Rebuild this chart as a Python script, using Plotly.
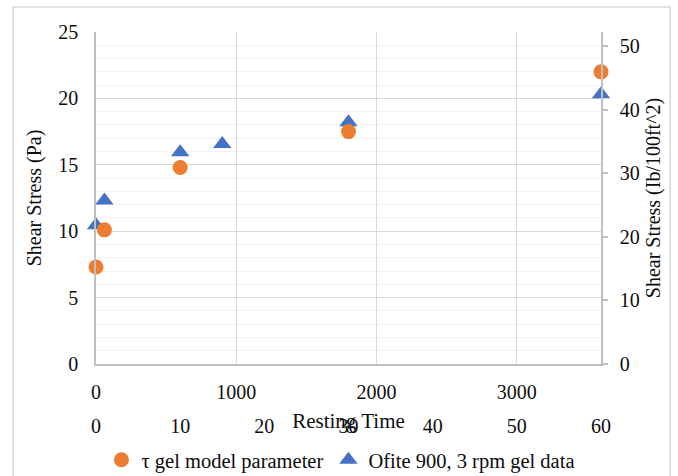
import plotly.graph_objects as go

# Data
tau_time_s = [0, 60, 600, 1800, 3600]
tau_stress_pa = [7.3, 10.1, 14.8, 17.5, 22.0]
ofite_time_min = [0, 1, 10, 15, 30, 60]
ofite_stress_lb = [21.8, 25.7, 33.3, 34.6, 38.0, 42.4]

tau_name = "τ gel model parameter"
ofite_name = "Ofite 900, 3 rpm gel data"

FONT = "Liberation Serif, Times New Roman, serif"
TXT = "#0d0d0d"
AX = "#bfbfbf"
GRID = "#d9d9d9"
MINOR = "#f2f2f2"

fig = go.Figure()
fig.add_trace(go.Scatter(
    x=tau_time_s, y=tau_stress_pa, mode="markers", name=tau_name,
    marker=dict(symbol="circle", size=15, color="#ED7D31"), cliponaxis=False,
    xaxis="x", yaxis="y"))
fig.add_trace(go.Scatter(
    x=ofite_time_min, y=ofite_stress_lb, mode="markers", name=ofite_name,
    marker=dict(symbol="triangle-up", size=16, color="#4472C4"), cliponaxis=False,
    xaxis="x2", yaxis="y2"))

fig.update_layout(
    width=678, height=476,
    margin=dict(l=96, r=77, t=32, b=112, autoexpand=False),
    paper_bgcolor="white", plot_bgcolor="white",
    font=dict(family=FONT, size=20, color=TXT),
    showlegend=True,
    legend=dict(orientation="h", x=0.485, xanchor="center", y=-0.289, yanchor="middle",
                font=dict(size=20.5), itemwidth=30, bgcolor="rgba(0,0,0,0)"),
    # seconds axis (overlay, drawn on top)
    xaxis=dict(range=[0, 3600], dtick=1000, tick0=0, overlaying="x2", anchor="y",
               showgrid=True, gridcolor=GRID,
               showline=True, linecolor=AX, linewidth=1.5, ticks="", zeroline=False,
               ticklabelstandoff=9, automargin=False,
               title=dict(text="Resting Time", font=dict(size=21), standoff=12)),
    # minutes axis (base)
    xaxis2=dict(range=[0, 60], dtick=10, tick0=0, anchor="y2", side="bottom",
                showgrid=False, showline=False, ticks="", zeroline=False,
                ticklabelstandoff=48, automargin=False),
    xaxis3=dict(range=[0, 60], dtick=10, tick0=0, overlaying="x2", anchor="y2", side="top",
                showgrid=False, showline=True, linecolor=AX, linewidth=1.5,
                ticks="outside", ticklen=5, tickcolor=AX, tickwidth=1.5,
                showticklabels=False, zeroline=False, automargin=False),
    yaxis=dict(range=[0, 25], dtick=5, tick0=0, overlaying="y2", anchor="x", side="left",
               showgrid=True, gridcolor=GRID,
               minor=dict(dtick=1, showgrid=True, gridcolor=MINOR, ticks=""),
               showline=True, linecolor=AX, linewidth=1.5, ticks="", zeroline=False,
               ticklabelstandoff=12, automargin=False,
               title=dict(text="Shear Stress (Pa)", font=dict(size=20), standoff=11)),
    yaxis2=dict(range=[0, 52.2], dtick=10, tick0=0, side="right", anchor="x2",
                showgrid=False, showline=True, linecolor=AX, linewidth=1.5,
                ticks="outside", ticklen=5, tickcolor=AX, tickwidth=1.5, zeroline=False,
                ticklabelstandoff=8, automargin=False,
                title=dict(text="Shear Stress (Ib/100ft^2)", font=dict(size=20), standoff=7)),
    shapes=[dict(type="rect", xref="paper", yref="paper", x0=-0.164, x1=1.137,
                 y0=-0.36, y1=1.075, line=dict(color=GRID, width=1.5),
                 fillcolor="rgba(0,0,0,0)", layer="below")],
)

fig.write_html("out.html")
